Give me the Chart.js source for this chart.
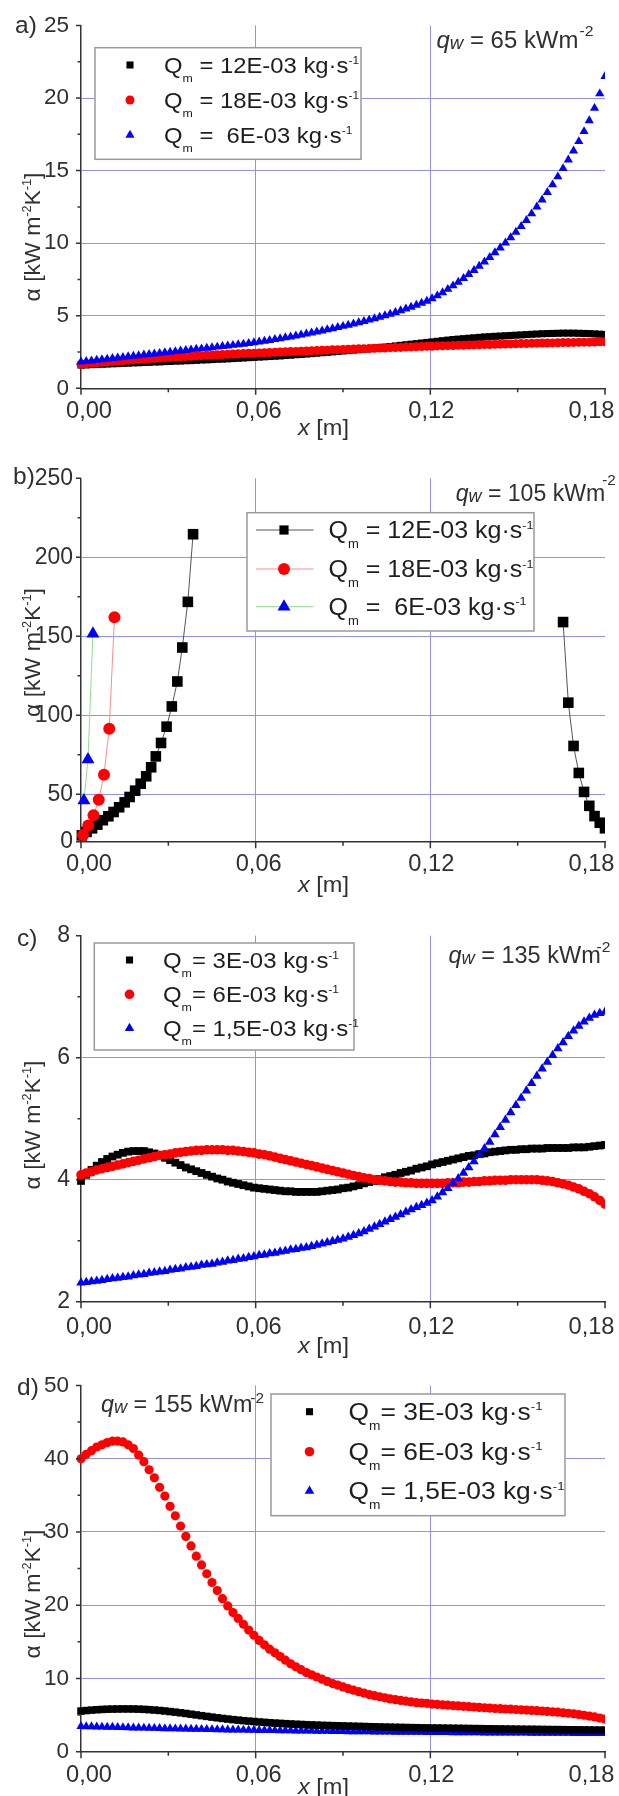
<!DOCTYPE html>
<html><head><meta charset="utf-8">
<script src="https://cdn.jsdelivr.net/npm/chart.js@4.4.1/dist/chart.umd.min.js"></script>
<style>
html,body{margin:0;padding:0;background:#fff;}
#wrap{position:relative;width:619px;height:1796px;overflow:hidden;background:#fff;}
canvas{position:absolute;left:0;}
</style></head><body>
<div id="wrap">
<canvas id="cA" width="619" height="440" style="top:0px;width:619px;height:440px"></canvas>
<canvas id="cB" width="619" height="460" style="top:440px;width:619px;height:460px"></canvas>
<canvas id="cC" width="619" height="460" style="top:900px;width:619px;height:460px"></canvas>
<canvas id="cD" width="619" height="436" style="top:1360px;width:619px;height:436px"></canvas>
</div>
<script>
// ---------- DATA ----------
const xs = [0,0.0018,0.0036,0.0054,0.0072,0.009,0.0108,0.0126,0.0144,0.0162,
0.018,0.0198,0.0216,0.0234,0.0252,0.027,0.0288,0.0306,0.0324,0.0342,
0.036,0.0378,0.0396,0.0414,0.0432,0.045,0.0468,0.0486,0.0504,0.0522,
0.054,0.0558,0.0576,0.0594,0.0612,0.063,0.0648,0.0666,0.0684,0.0702,
0.072,0.0738,0.0756,0.0774,0.0792,0.081,0.0828,0.0846,0.0864,0.0882,
0.09,0.0918,0.0936,0.0954,0.0972,0.099,0.1008,0.1026,0.1044,0.1062,
0.108,0.1098,0.1116,0.1134,0.1152,0.117,0.1188,0.1206,0.1224,0.1242,
0.126,0.1278,0.1296,0.1314,0.1332,0.135,0.1368,0.1386,0.1404,0.1422,
0.144,0.1458,0.1476,0.1494,0.1512,0.153,0.1548,0.1566,0.1584,0.1602,
0.162,0.1638,0.1656,0.1674,0.1692,0.171,0.1728,0.1746,0.1764,0.1782,
0.18];

// panel a) qw = 65
const a_black = [1.60,1.61,1.63,1.64,1.66,1.67,1.69,1.70,1.72,1.73,
1.75,1.76,1.78,1.79,1.81,1.82,1.84,1.85,1.87,1.88,
1.90,1.91,1.93,1.95,1.96,1.98,2.00,2.01,2.03,2.05,
2.07,2.09,2.11,2.13,2.15,2.17,2.19,2.21,2.23,2.26,
2.28,2.31,2.33,2.36,2.39,2.42,2.45,2.48,2.51,2.54,
2.57,2.60,2.63,2.66,2.70,2.73,2.77,2.80,2.84,2.88,
2.92,2.96,3.00,3.04,3.08,3.12,3.16,3.20,3.24,3.28,
3.32,3.36,3.39,3.42,3.45,3.48,3.51,3.54,3.56,3.58,
3.60,3.62,3.64,3.66,3.68,3.70,3.72,3.74,3.76,3.77,
3.78,3.79,3.80,3.80,3.80,3.79,3.78,3.77,3.75,3.73,
3.71];
const a_red = [1.65,1.69,1.72,1.76,1.79,1.82,1.85,1.88,1.91,1.94,
1.97,1.99,2.02,2.04,2.07,2.09,2.11,2.13,2.15,2.17,
2.19,2.21,2.23,2.25,2.27,2.29,2.31,2.33,2.34,2.36,
2.38,2.39,2.41,2.42,2.44,2.45,2.47,2.48,2.50,2.51,
2.53,2.54,2.56,2.57,2.59,2.60,2.62,2.63,2.65,2.66,
2.68,2.69,2.70,2.72,2.73,2.74,2.76,2.77,2.78,2.80,
2.81,2.82,2.84,2.85,2.86,2.88,2.89,2.90,2.92,2.93,
2.94,2.95,2.96,2.97,2.98,2.99,3.00,3.01,3.02,3.03,
3.04,3.05,3.06,3.07,3.08,3.09,3.10,3.11,3.12,3.12,
3.13,3.14,3.15,3.15,3.16,3.17,3.18,3.18,3.19,3.20,
3.20];
const a_blue = [1.82,1.86,1.90,1.94,1.98,2.02,2.06,2.10,2.14,2.18,
2.22,2.26,2.30,2.34,2.38,2.42,2.46,2.50,2.54,2.58,
2.62,2.66,2.70,2.73,2.77,2.81,2.85,2.89,2.93,2.97,
3.01,3.05,3.10,3.15,3.20,3.25,3.31,3.37,3.43,3.49,
3.55,3.61,3.68,3.75,3.82,3.89,3.96,4.04,4.12,4.20,
4.28,4.36,4.44,4.53,4.62,4.71,4.81,4.91,5.01,5.12,
5.23,5.35,5.47,5.60,5.73,5.87,6.01,6.18,6.38,6.60,
6.83,7.07,7.32,7.58,7.85,8.13,8.42,8.72,9.03,9.35,
9.68,10.02,10.38,10.76,11.16,11.58,12.03,12.50,12.99,13.50,
14.03,14.58,15.15,15.74,16.36,17.01,17.70,18.45,19.30,20.30,
21.50];

// panel b) qw = 105 (sparse points)
const b_black_left_x = [0.0003,0.0019,0.0038,0.0056,0.0075,0.0094,0.0112,0.0131,0.0150,0.0167,0.0186,0.0205,0.0224,0.0241,0.0257,0.0275,0.0294,0.0312,0.0331,0.0348,0.0367,0.0385];
const b_black_left_y = [24,26.2,28.5,30.8,33.6,36.1,38.8,41.8,44.9,48.3,52.3,56.7,61.4,67.1,74,82.5,92.8,105.6,121.4,142.9,171.8,214.6];
const b_black_right_x = [0.1656,0.1674,0.1692,0.171,0.1728,0.1746,0.1764,0.1782,0.18];
const b_black_right_y = [159,108,80.6,63.5,51.5,42.7,36.2,32,28.5];
const b_red_x = [0.0007,0.0025,0.0043,0.0061,0.0079,0.0097,0.0115];
const b_red_y = [24.3,30.2,36.8,46.5,62.4,91.5,162];
const b_blue_x = [0.001,0.0024,0.0041];
const b_blue_y = [46,72,151.6];

// panel c) qw = 135
const c_black = [3.98,4.08,4.16,4.23,4.29,4.34,4.38,4.41,4.44,4.46,
4.47,4.47,4.47,4.45,4.43,4.40,4.36,4.32,4.28,4.24,
4.20,4.17,4.14,4.11,4.08,4.05,4.02,4.00,3.97,3.95,
3.93,3.91,3.89,3.87,3.86,3.85,3.84,3.83,3.82,3.81,
3.81,3.80,3.80,3.80,3.80,3.80,3.81,3.82,3.83,3.84,
3.86,3.87,3.89,3.91,3.94,3.96,3.98,4.01,4.04,4.06,
4.08,4.11,4.13,4.15,4.18,4.20,4.22,4.25,4.27,4.29,
4.31,4.33,4.35,4.37,4.39,4.40,4.42,4.43,4.45,4.46,
4.47,4.48,4.49,4.49,4.50,4.50,4.51,4.51,4.51,4.52,
4.52,4.52,4.52,4.52,4.53,4.53,4.53,4.54,4.55,4.56,
4.57];
const c_red = [4.08,4.11,4.13,4.16,4.18,4.20,4.22,4.24,4.26,4.28,
4.30,4.32,4.34,4.36,4.38,4.40,4.41,4.42,4.44,4.45,
4.46,4.47,4.48,4.48,4.49,4.49,4.49,4.49,4.48,4.48,
4.47,4.46,4.45,4.44,4.42,4.41,4.39,4.37,4.35,4.33,
4.31,4.29,4.27,4.25,4.23,4.21,4.19,4.17,4.15,4.13,
4.11,4.09,4.07,4.05,4.03,4.02,4.00,3.99,3.98,3.97,
3.96,3.96,3.95,3.95,3.94,3.94,3.94,3.94,3.94,3.94,
3.95,3.95,3.95,3.96,3.96,3.97,3.97,3.98,3.98,3.99,
3.99,3.99,4.00,4.00,4.00,4.00,4.00,4.00,3.99,3.98,
3.97,3.95,3.93,3.91,3.88,3.85,3.81,3.77,3.72,3.66,
3.60];
const c_blue = [2.31,2.32,2.33,2.34,2.35,2.37,2.38,2.39,2.40,2.41,
2.43,2.44,2.45,2.47,2.48,2.49,2.50,2.52,2.53,2.54,
2.56,2.57,2.58,2.60,2.61,2.62,2.64,2.65,2.67,2.68,
2.70,2.71,2.73,2.74,2.76,2.77,2.79,2.80,2.82,2.83,
2.85,2.86,2.88,2.89,2.91,2.93,2.95,2.97,2.99,3.01,
3.03,3.06,3.09,3.12,3.15,3.19,3.23,3.27,3.31,3.35,
3.39,3.43,3.47,3.51,3.55,3.58,3.62,3.66,3.72,3.79,
3.86,3.94,4.02,4.11,4.20,4.30,4.40,4.51,4.62,4.74,
4.86,4.98,5.10,5.22,5.34,5.46,5.58,5.70,5.82,5.93,
6.04,6.15,6.25,6.35,6.44,6.52,6.59,6.65,6.70,6.73,
6.75];

// panel d) qw = 155
const d_black = [5.55,5.62,5.68,5.73,5.77,5.80,5.82,5.83,5.84,5.84,
5.83,5.81,5.78,5.74,5.69,5.63,5.56,5.48,5.40,5.31,
5.22,5.12,5.02,4.92,4.82,4.72,4.63,4.54,4.46,4.38,
4.31,4.24,4.18,4.12,4.06,4.01,3.96,3.91,3.87,3.83,
3.79,3.75,3.72,3.69,3.66,3.63,3.60,3.58,3.56,3.54,
3.52,3.50,3.48,3.46,3.44,3.42,3.40,3.38,3.36,3.35,
3.33,3.32,3.30,3.29,3.28,3.26,3.25,3.24,3.23,3.22,
3.21,3.20,3.19,3.18,3.17,3.16,3.15,3.14,3.13,3.12,
3.11,3.10,3.09,3.08,3.07,3.06,3.06,3.05,3.04,3.03,
3.02,3.02,3.01,3.00,2.99,2.99,2.98,2.97,2.96,2.95,
2.95];
const d_red = [40.0,40.6,41.1,41.6,41.9,42.2,42.4,42.4,42.3,41.9,
41.4,40.5,39.6,38.5,37.4,36.1,34.9,33.5,32.2,30.8,
29.4,28.1,26.7,25.5,24.3,23.1,22.0,20.9,19.9,19.0,
18.2,17.4,16.6,15.9,15.2,14.6,14.0,13.5,13.0,12.5,
12.0,11.6,11.2,10.8,10.5,10.2,9.9,9.6,9.3,9.1,
8.85,8.6,8.4,8.2,8.0,7.8,7.65,7.5,7.35,7.2,
7.1,7.0,6.9,6.8,6.7,6.65,6.6,6.5,6.45,6.4,
6.35,6.3,6.25,6.2,6.15,6.1,6.05,6.0,5.95,5.9,
5.87,5.83,5.8,5.76,5.72,5.68,5.64,5.6,5.55,5.5,
5.45,5.4,5.32,5.25,5.17,5.08,4.98,4.87,4.75,4.6,
4.45];
const d_blue = [3.46,3.44,3.42,3.40,3.38,3.36,3.35,3.33,3.31,3.29,
3.27,3.26,3.24,3.22,3.21,3.19,3.17,3.16,3.14,3.13,
3.11,3.10,3.08,3.07,3.06,3.04,3.03,3.02,3.00,2.99,
2.98,2.97,2.95,2.94,2.93,2.92,2.91,2.90,2.89,2.88,
2.87,2.86,2.85,2.84,2.83,2.82,2.81,2.80,2.79,2.78,
2.77,2.76,2.75,2.75,2.74,2.73,2.72,2.71,2.71,2.70,
2.69,2.68,2.68,2.67,2.66,2.66,2.65,2.64,2.64,2.63,
2.63,2.62,2.62,2.61,2.61,2.60,2.60,2.59,2.59,2.58,
2.58,2.57,2.57,2.56,2.56,2.56,2.55,2.55,2.54,2.54,
2.54,2.53,2.53,2.53,2.52,2.52,2.52,2.51,2.51,2.51,
2.50];

// ticks & labels
const xTicks = [0, 0.06, 0.12, 0.18];
const xTickLabels = ['0,00', '0,06', '0,12', '0,18'];
const xMinor = [0.03, 0.09, 0.15];
const a_yTicks = [0, 5, 10, 15, 20, 25];
const a_yTickLabels = ['0', '5', '10', '15', '20', '25'];
const a_yMinor = [2.5, 7.5, 12.5, 17.5, 22.5];
const b_yTicks = [20, 50, 100, 150, 200, 250];
const b_yTickLabels = ['0', '50', '100', '150', '200', '250'];
const b_yMinor = [75, 125, 175, 225];
const c_yTicks = [2, 4, 6, 8];
const c_yTickLabels = ['2', '4', '6', '8'];
const c_yMinor = [3, 5, 7];
const d_yTicks = [0, 10, 20, 30, 40, 50];
const d_yTickLabels = ['0', '10', '20', '30', '40', '50'];
const d_yMinor = [5, 15, 25, 35, 45];

const a_labels = ['Q_{m} = 12E-03 kg\u00b7s^{-1}', 'Q_{m} = 18E-03 kg\u00b7s^{-1}', 'Q_{m} =  6E-03 kg\u00b7s^{-1}'];
const b_labels = ['Q_{m} = 12E-03 kg\u00b7s^{-1}', 'Q_{m} = 18E-03 kg\u00b7s^{-1}', 'Q_{m} =  6E-03 kg\u00b7s^{-1}'];
const c_labels = ['Q_{m}= 3E-03 kg\u00b7s^{-1}', 'Q_{m}= 6E-03 kg\u00b7s^{-1}', 'Q_{m}= 1,5E-03 kg\u00b7s^{-1}'];
const d_labels = ['Q_{m}= 3E-03 kg\u00b7s^{-1}', 'Q_{m}= 6E-03 kg\u00b7s^{-1}', 'Q_{m}= 1,5E-03 kg\u00b7s^{-1}'];
const qwValues = ['65', '105', '135', '155'];
const panelLetters = ['a)', 'b)', 'c)', 'd)'];
const xTitle = '~{x} [m]';
const yTitle = '\u03b1 [kW m^{-2}K^{-1}]';

// ---------- STYLE / HELPERS ----------
const FONT = "'Liberation Sans', Arial, Helvetica, sans-serif";
const INK = '#303030';
const GRID = '#8f8fff';
const AXIS = '#333333';
Chart.defaults.font.family = FONT;
Chart.defaults.color = INK;

function parseRich(s) {
  const out = []; let i = 0, buf = '';
  const kinds = {'_': 'sub', '^': 'sup', '~': 'i', '%': 'w'};
  while (i < s.length) {
    const c = s[i];
    if (kinds[c] && s[i + 1] === '{') {
      if (buf) { out.push({t: buf, k: 'n'}); buf = ''; }
      const j = s.indexOf('}', i + 2);
      out.push({t: s.slice(i + 2, j), k: kinds[c]});
      i = j + 1;
    } else { buf += c; i++; }
  }
  if (buf) out.push({t: buf, k: 'n'});
  return out;
}
const BASESTY = {
  n: {f: 1, dy: 0, it: false}, i: {f: 1, dy: 0, it: true},
  w: {f: 0.78, dy: 0.06, it: true},
  sub: {f: 0.55, dy: 0.4, it: false}, sup: {f: 0.55, dy: -0.42, it: false}
};
const fontOf = (st, size) => (st.it ? 'italic ' : '') + (size * st.f).toFixed(2) + 'px ' + FONT;
function measureRich(ctx, str, size, opt) {
  opt = opt || {};
  const segs = parseRich(str);
  const sty = Object.assign({}, BASESTY, opt.sty || {});
  ctx.save();
  const widths = segs.map(sg => {
    ctx.font = fontOf(sty[sg.k], size);
    return ctx.measureText(sg.t).width + (sg.k === 'sup' ? (opt.supDx || 0) : 0);
  });
  ctx.restore();
  return {segs, sty, widths, total: widths.reduce((a, b) => a + b, 0)};
}
function drawRich(ctx, str, x, y, size, opt) {
  opt = opt || {};
  const m = measureRich(ctx, str, size, opt);
  let stretch = opt.stretch || 1;
  if (opt.width) stretch = opt.width / m.total;
  ctx.save();
  ctx.translate(x, y);
  if (opt.rotate) ctx.rotate(opt.rotate);
  ctx.scale(stretch, 1);
  ctx.textBaseline = 'alphabetic'; ctx.textAlign = 'left';
  ctx.fillStyle = opt.color || INK;
  let cx = opt.align === 'center' ? -m.total / 2 : 0;
  m.segs.forEach((sg, idx) => {
    const st = m.sty[sg.k];
    ctx.font = fontOf(st, size);
    const dx = sg.k === 'sup' ? (opt.supDx || 0) : 0;
    ctx.fillText(sg.t, cx + dx, st.dy * size);
    cx += m.widths[idx];
  });
  ctx.restore();
}
function drawMarker(ctx, style, r, x, y, color) {
  ctx.fillStyle = color;
  if (Chart.helpers && Chart.helpers.drawPoint) {
    Chart.helpers.drawPoint(ctx, {pointStyle: style, radius: r, rotation: 0, borderWidth: 0}, x, y);
  }
}

// ---------- PANEL CONFIG (page coordinates) ----------
const CLIP = {left: 8, top: false, right: 0, bottom: false};
function dense(ys, style, color, r, order) {
  return {data: xs.map((x, i) => ({x: x, y: ys[i]})), pointStyle: style, pointRadius: r,
    pointBackgroundColor: color, backgroundColor: color, borderColor: color,
    pointBorderWidth: 0, borderWidth: 0, showLine: false, order: order, clip: CLIP};
}
function sparse(xv, yv, style, color, lineColor, r, order) {
  return {data: xv.map((x, i) => ({x: x, y: yv[i]})), pointStyle: style, pointRadius: r,
    pointBackgroundColor: color, backgroundColor: color, borderColor: lineColor,
    pointBorderWidth: 0, borderWidth: 1, showLine: true, tension: 0, spanGaps: false,
    order: order, clip: CLIP};
}
const bBlack = sparse(b_black_left_x.concat([0.1]).concat(b_black_right_x),
  b_black_left_y.concat([null]).concat(b_black_right_y), 'rect', '#000000', '#555555', 7.5, 2);

const LEG_STY = {sub: {f: 0.52, dy: 0.41, it: false}, sup: {f: 0.5, dy: -0.42, it: false}};
const PANELS = {
  cA: {top: 0, h: 440, area: {l: 81, r: 605, t: 21.7, b: 388.3}, yMin: 0, yMax: 25,
    yTicks: a_yTicks, yLabels: a_yTickLabels, yMinor: a_yMinor, yFont: 22.5, yPad: 12,
    datasets: [dense(a_black, 'rect', '#000000', 5, 2), dense(a_red, 'circle', '#ff0000', 4.5, 1), dense(a_blue, 'triangle', '#0000ff', 5.3, 0)],
    labels: a_labels, letter: panelLetters[0], letterPos: [15, 33],
    xLabelY: 418.3, xTitlePos: [323.5, 435], yTitlePos: [40, 237],
    qw: qwValues[0], qwPos: [436.5, 47.7], qwW: 157, qwSupDy: -0.5, qwSupDx: 1,
    legend: {box: [95, 47.7, 361, 159.3], rows: [65, 100, 135], symX: 130, textX: 164, size: 22.5, width: 195, r: [5, 4.5, 5.3], line: null}},
  cB: {top: 440, h: 460, area: {l: 81, r: 605, t: 478.3, b: 841.7}, yMin: 20, yMax: 250,
    yTicks: b_yTicks, yLabels: b_yTickLabels, yMinor: b_yMinor, yFont: 23, yPad: 8,
    datasets: [bBlack,
      sparse(b_red_x, b_red_y, 'circle', '#ff0000', '#ff8a8a', 6, 1),
      sparse(b_blue_x, b_blue_y, 'triangle', '#0000ff', '#8ee08e', 7.5, 0)],
    labels: b_labels, letter: panelLetters[1], letterPos: [13, 484],
    xLabelY: 870.7, xTitlePos: [323.5, 892], yTitlePos: [40, 652.5],
    qw: qwValues[1], qwPos: [455.7, 500.7], qwW: 160, qwSupDy: -0.68, qwSupDx: -3,
    legend: {box: [247, 512.7, 534, 631], rows: [530, 569, 606.7], symX: 284, textX: 328.5, size: 23.5, width: 205, r: [6.5, 6, 7.5], line: [256, 313.5]}},
  cC: {top: 900, h: 460, area: {l: 81, r: 605, t: 935.7, b: 1301.7}, yMin: 2, yMax: 8,
    yTicks: c_yTicks, yLabels: c_yTickLabels, yMinor: c_yMinor, yFont: 23, yPad: 11,
    datasets: [dense(c_black, 'rect', '#000000', 5.5, 2), dense(c_red, 'circle', '#ff0000', 4.8, 1), dense(c_blue, 'triangle', '#0000ff', 5.5, 0)],
    labels: c_labels, letter: panelLetters[2], letterPos: [17, 946],
    xLabelY: 1334, xTitlePos: [323.5, 1353], yTitlePos: [40, 1125],
    qw: qwValues[2], qwPos: [448.4, 963], qwW: 162, qwSupDy: -0.5, qwSupDx: -4,
    legend: {box: [94.3, 943, 354, 1050], rows: [960, 994.3, 1028.3], symX: 129.5, textX: 163, size: 21.5, width: 176, r: [5, 4.8, 5.5], line: null}},
  cD: {top: 1360, h: 436, area: {l: 81, r: 605, t: 1385, b: 1751.7}, yMin: 0, yMax: 50,
    yTicks: d_yTicks, yLabels: d_yTickLabels, yMinor: d_yMinor, yFont: 22.5, yPad: 12,
    datasets: [dense(d_black, 'rect', '#000000', 5.3, 1), dense(d_red, 'circle', '#ff0000', 4.6, 0), dense(d_blue, 'triangle', '#0000ff', 5.3, 2)],
    labels: d_labels, letter: panelLetters[3], letterPos: [17, 1395],
    xLabelY: 1781.7, xTitlePos: [323.5, 1794], yTitlePos: [40, 1594],
    qw: qwValues[3], qwPos: [101, 1411.7], qwW: 163, qwSupDy: -0.4, qwSupDx: -2,
    legend: {box: [271, 1394, 565, 1515.7], rows: [1411.7, 1451.7, 1491], symX: 309.5, textX: 348.5, size: 23.5, width: 194, r: [5, 4.8, 5.5], line: null}}
};

const decoPlugin = {
  id: 'deco',
  afterDraw(chart) {
    const P = PANELS[chart.canvas.id];
    const ctx = chart.ctx, sx = chart.scales.x, sy = chart.scales.y, A = chart.chartArea, T = P.top;
    ctx.save();
    // tick marks (major + minor), outward
    ctx.strokeStyle = AXIS; ctx.lineWidth = 1.5; ctx.lineCap = 'butt';
    ctx.beginPath();
    xTicks.forEach(v => { const p = sx.getPixelForValue(v); ctx.moveTo(p, A.bottom); ctx.lineTo(p, A.bottom + 6.5); });
    xMinor.forEach(v => { const p = sx.getPixelForValue(v); ctx.moveTo(p, A.bottom); ctx.lineTo(p, A.bottom + 4); });
    P.yTicks.forEach(v => { const p = sy.getPixelForValue(v); ctx.moveTo(A.left - 5, p); ctx.lineTo(A.left, p); });
    P.yMinor.forEach(v => { const p = sy.getPixelForValue(v); ctx.moveTo(A.left - 3.5, p); ctx.lineTo(A.left, p); });
    ctx.stroke();
    // x tick labels
    const shift = [8, 3, 1, -13.5];
    xTicks.forEach((v, i) => drawRich(ctx, xTickLabels[i], sx.getPixelForValue(v) + shift[i], P.xLabelY - T, 23, {align: 'center', width: 46}));
    // axis titles
    drawRich(ctx, xTitle, P.xTitlePos[0], P.xTitlePos[1] - T, 22.5, {align: 'center', width: 51});
    drawRich(ctx, yTitle, P.yTitlePos[0], P.yTitlePos[1] - T, 22.5, {align: 'center', rotate: -Math.PI / 2, width: 129});
    // panel letter
    drawRich(ctx, P.letter, P.letterPos[0], P.letterPos[1] - T, 24.5, {});
    // heat flux annotation
    drawRich(ctx, '~{q}%{w} = ' + P.qw + ' kWm^{-2}', P.qwPos[0], P.qwPos[1] - T, 23,
      {width: P.qwW, supDx: P.qwSupDx, sty: {sup: {f: 0.66, dy: P.qwSupDy, it: false}}});
    // legend box
    const L = P.legend;
    ctx.fillStyle = '#ffffff'; ctx.strokeStyle = '#9a9a9a'; ctx.lineWidth = 1.5;
    ctx.fillRect(L.box[0], L.box[1] - T, L.box[2] - L.box[0], L.box[3] - L.box[1]);
    ctx.strokeRect(L.box[0], L.box[1] - T, L.box[2] - L.box[0], L.box[3] - L.box[1]);
    const legStretch = L.width / measureRich(ctx, P.labels[0], L.size, {sty: LEG_STY}).total;
    chart.data.datasets.forEach((ds, i) => {
      const cy = L.rows[i] - T;
      if (L.line) {
        ctx.strokeStyle = ds.borderColor; ctx.lineWidth = 1;
        ctx.beginPath(); ctx.moveTo(L.line[0], cy); ctx.lineTo(L.line[1], cy); ctx.stroke();
      }
      drawMarker(ctx, ds.pointStyle, L.r[i], L.symX, cy, ds.pointBackgroundColor);
      drawRich(ctx, P.labels[i], L.textX, cy + L.size * 0.36, L.size,
        {stretch: legStretch, color: '#1e1e1e', sty: LEG_STY});
    });
    ctx.restore();
  }
};

function makeChart(id) {
  const P = PANELS[id];
  const ar = P.area;
  const padTop = ar.t - P.top;
  const xH = P.top + P.h - ar.b;
  const gridColor = (min, max) => (c) => {
    const v = c.tick ? c.tick.value : null;
    return (v === min || v === max) ? 'rgba(0,0,0,0)' : GRID;
  };
  return new Chart(document.getElementById(id), {
    type: 'scatter',
    data: {datasets: P.datasets},
    options: {
      responsive: false, animation: false, devicePixelRatio: 1, events: [],
      layout: {padding: {left: 0, top: padTop, right: 619 - ar.r, bottom: 0}},
      plugins: {legend: {display: false}, tooltip: {enabled: false}},
      scales: {
        x: {
          type: 'linear', min: 0, max: 0.18, position: 'bottom',
          afterBuildTicks: s => { s.ticks = xTicks.map(v => ({value: v})); },
          afterFit: s => { s.height = xH; },
          ticks: {display: false},
          grid: {color: gridColor(0, 0.18), lineWidth: 1, drawTicks: false},
          border: {display: true, color: AXIS, width: 1.5}
        },
        y: {
          type: 'linear', min: P.yMin, max: P.yMax, position: 'left',
          afterBuildTicks: s => { s.ticks = P.yTicks.map(v => ({value: v})); },
          afterFit: s => { s.width = ar.l; },
          ticks: {display: true, autoSkip: false, padding: P.yPad, color: INK,
            font: {size: P.yFont, family: FONT},
            callback: (v, i) => P.yLabels[i]},
          grid: {color: gridColor(P.yMin, P.yMax), lineWidth: 1, drawTicks: false},
          border: {display: true, color: AXIS, width: 1.5}
        }
      }
    },
    plugins: [decoPlugin]
  });
}
['cA', 'cB', 'cC', 'cD'].forEach(makeChart);
</script>
</body></html>
